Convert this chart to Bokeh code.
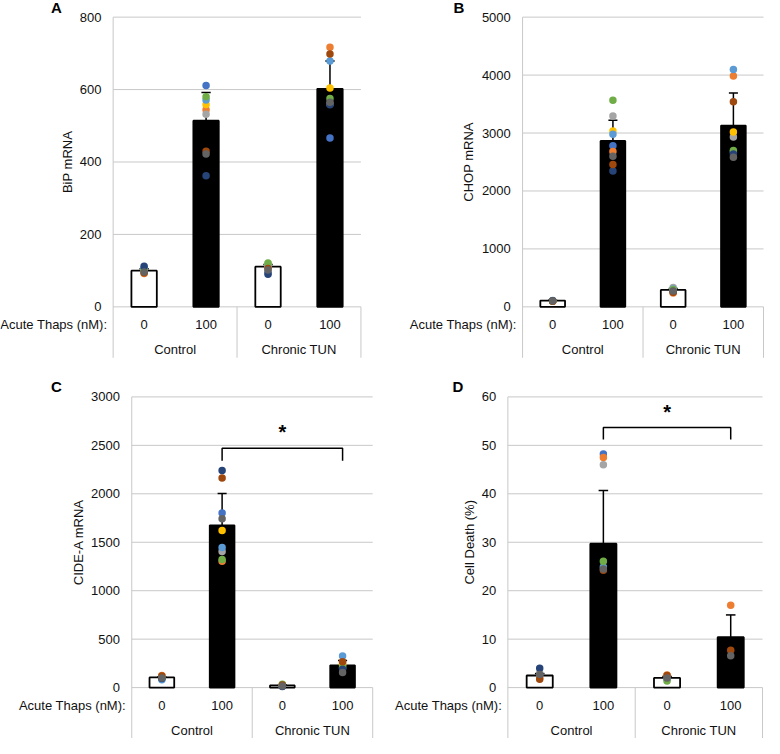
import numpy as np
from bokeh.plotting import figure
from bokeh.models import Range1d
from bokeh.layouts import gridplot
from bokeh.embed import file_html
from bokeh.resources import INLINE
from bokeh.core.properties import value

FONT = "Liberation Sans"
N = None

# ---------------- data ----------------
group_labels = ["Control", "Chronic TUN"]
dose_labels = ["0", "100", "0", "100"]
x_title = "Acute Thaps (nM):"
bar_fills = ["white", "black", "white", "black"]
series_colors = ["#4472C4", "#ED7D31", "#A5A5A5", "#FFC000", "#5B9BD5",
                 "#70AD47", "#264478", "#9E480E", "#636363"]

# Panel A: BiP
A_ylabel = "BiP mRNA"
A_ticks = [0, 200, 400, 600, 800]
A_mean = [100, 514, 111, 602]
A_err = [5, 78, 6, 77]
A_dots = [  # one row per replicate (colour), columns = groups
    [108, 611, 95, 466],
    [92, 544, 112, 717],
    [98, 532, 118, 560],
    [100, 559, 115, 604],
    [104, 571, 114, 679],
    [102, 580, 121, 575],
    [112, 362, 90, 558],
    [94, 430, 106, 698],
    [96, 422, 102, 565],
]

# Panel B: CHOP
B_ylabel = "CHOP mRNA"
B_ticks = [0, 1000, 2000, 3000, 4000, 5000]
B_mean = [108, 2862, 292, 3128]
B_err = [8, 357, 25, 563]
B_dots = [
    [100, 2781, 300, 2672],
    [95, 2680, 240, 3983],
    [105, 3292, 335, 2933],
    [98, 3034, 290, 3017],
    [110, 2978, 310, 4096],
    [102, 3567, 300, 2697],
    [104, 2343, 265, 2640],
    [96, 2455, 250, 3539],
    [100, 2601, 275, 2584],
]

# Panel C: CIDE-A
C_ylabel = "CIDE-A mRNA"
C_ticks = [0, 500, 1000, 1500, 2000, 2500, 3000]
C_mean = [105, 1675, 22, 230]
C_err = [8, 327, 5, 50]
C_dots = [
    [100, 1803, 20, 200],
    [125, 1304, 25, 255],
    [100, 1405, 18, 230],
    [100, 1621, 22, 240],
    [82, 1446, 15, 325],
    [105, 1321, 34, 210],
    [95, 2241, 12, 190],
    [120, 2164, 28, 268],
    [100, 1743, 17, 155],
]
C_sig = (2342, 2470, 2663)   # bracket leg end, bracket top, star centre

# Panel D: Cell death
D_ylabel = "Cell Death (%)"
D_ticks = [0, 10, 20, 30, 40, 50, 60]
D_mean = [2.5, 29.7, 2.0, 10.4]
D_err = [0.4, 11.0, 0.3, 4.6]
D_dots = [
    [2.5, 48.2, N, N],
    [2.0, 47.5, 2.6, 17.0],
    [3.0, 46.0, N, N],
    [N, N, N, N],
    [N, 24.9, 1.7, N],
    [N, 26.1, 1.35, N],
    [4.0, N, N, N],
    [1.7, 24.2, 2.5, 7.7],
    [2.7, 24.5, 2.0, 6.6],
]
D_sig = (51.2, 53.7, 57.3)

# ---------------- layout (reference-panel pixels) ----------------
REF_W, REF_H = 390, 377
W, H = 382, 369
SX, SY = W / REF_W, H / REF_H
GRID = "#c8c8c8"
TXT = "#111111"
XS = np.array([0.5, 1.5, 2.5, 3.5])


def arr(v):
    return np.array([np.nan if a is None else a for a in v], dtype=float)


def make_panel(letter, ylabel, ticks, means, errs, dots, geo, sig=None):
    # geo: axis-left, right, top, zero, bottom, letter x, letter y, y-title x  (reference px)
    left, right, top, zero, bottom, lx_px, ly_px, tx_px = geo
    left, right, lx_px, tx_px = left * SX, right * SX, lx_px * SX, tx_px * SX
    top, zero, bottom, ly_px = top * SY, zero * SY, bottom * SY, ly_px * SY
    ymax = ticks[-1]
    upx = 4.0 / (right - left)
    upp = ymax / (zero - top)
    xr = Range1d(-left * upx, (W - left) * upx)
    yr = Range1d(-(H - zero) * upp, ymax + top * upp)
    ybot = -(bottom - zero) * upp

    p = figure(width=W, height=H, x_range=xr, y_range=yr,
               min_border_left=0, min_border_right=0, min_border_top=0, min_border_bottom=0,
               x_axis_location=None, y_axis_location=None, toolbar_location=None, tools="",
               output_backend="svg", outline_line_color=None,
               background_fill_color="white", border_fill_color="white")
    p.xgrid.visible = False
    p.ygrid.visible = False

    # grid lines, axis line and group separators
    p.segment(x0=[0] * len(ticks), y0=ticks, x1=[4] * len(ticks), y1=ticks,
              line_color=GRID, line_width=1)
    p.segment(x0=[0, 2, 4], y0=[ymax, 0, 0], x1=[0, 2, 4], y1=[ybot] * 3,
              line_color=GRID, line_width=1)

    # tick labels and axis title
    p.text(x=[0] * len(ticks), y=ticks, text=[str(t) for t in ticks], x_offset=-12 * SX,
           text_align="right", text_baseline="middle", text_font=value(FONT),
           text_font_size="13px", text_color=TXT)
    p.text(x=[(tx_px - left) * upx], y=[ymax / 2], text=[ylabel], angle=np.pi / 2,
           text_align="center", text_baseline="middle", text_font=value(FONT),
           text_font_size="13px", text_color=TXT)

    # bars, error bars, replicate dots
    m = arr(means)
    tops = m + arr(errs)
    p.vbar(x=XS, top=m, bottom=0, width=0.41, fill_color=bar_fills,
           line_color="black", line_width=1.8)
    p.segment(x0=XS, y0=m, x1=XS, y1=tops, line_color="black", line_width=1.5)
    p.segment(x0=XS - 0.075, y0=tops, x1=XS + 0.075, y1=tops, line_color="black", line_width=1.5)
    for i, row in enumerate(dots):
        p.scatter(XS, arr(row), size=7.5, color=series_colors[i], line_color=None)

    # category labels
    cat_y = -18 * SY * upp
    grp_y = -43.5 * SY * upp
    p.text(x=XS, y=[cat_y] * 4, text=dose_labels, text_align="center", text_baseline="middle",
           text_font=value(FONT), text_font_size="13px", text_color=TXT)
    p.text(x=[1, 3], y=[grp_y] * 2, text=group_labels, text_align="center", text_baseline="middle",
           text_font=value(FONT), text_font_size="13px", text_color=TXT)
    p.text(x=[0], y=[cat_y], text=[x_title], x_offset=-6 * SX, text_align="right",
           text_baseline="middle", text_font=value(FONT), text_font_size="13px", text_color=TXT)

    # panel letter
    p.text(x=[(lx_px - left) * upx], y=[ymax + (top - ly_px) * upp], text=[letter],
           text_align="center", text_baseline="middle", text_font=value(FONT),
           text_font_size="15px", text_font_style="bold", text_color="black")

    if sig is not None:
        leg, btop, star = sig
        p.line(x=[1.5, 1.5, 3.5, 3.5], y=[leg, btop, btop, leg], line_color="black", line_width=1.5)
        p.text(x=[2.5], y=[star - 2 * upp], text=["*"], text_align="center",
               text_baseline="middle", text_font=value(FONT), text_font_size="20px",
               text_font_style="bold", text_color="black")
    return p


pA = make_panel("A", A_ylabel, A_ticks, A_mean, A_err, A_dots,
                (115, 368, 17, 313, 365, 57, 7, 68))
pB = make_panel("B", B_ylabel, B_ticks, B_mean, B_err, B_dots,
                (143, 389, 17, 313, 365, 78, 7, 88))
pC = make_panel("C", C_ylabel, C_ticks, C_mean, C_err, C_dots,
                (134, 380, 28, 325, 377, 57, 17, 80), C_sig)
pD = make_panel("D", D_ylabel, D_ticks, D_mean, D_err, D_dots,
                (128, 388, 28, 325, 377, 77, 17, 89), D_sig)

grid = gridplot([[pA, pB], [pC, pD]], toolbar_location=None)
open("out.html", "w").write(file_html(grid, INLINE))
